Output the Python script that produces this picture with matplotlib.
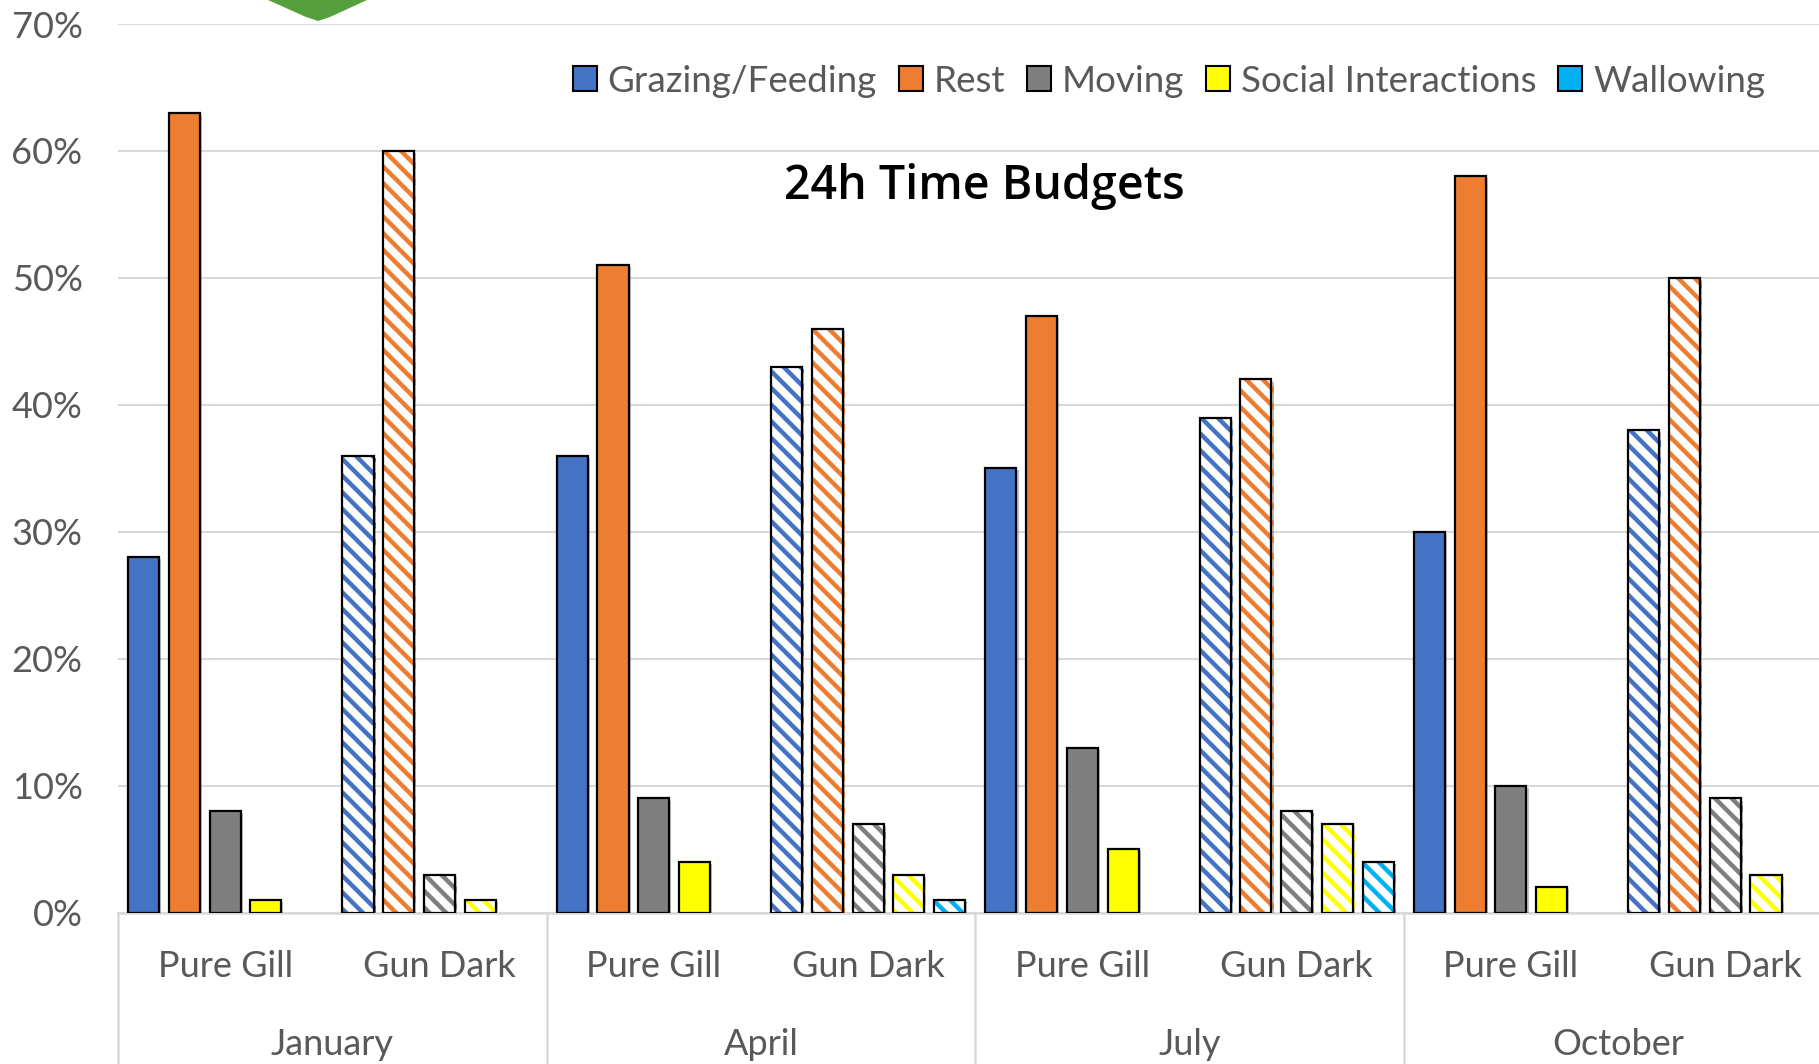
import matplotlib
matplotlib.use("Agg")
import matplotlib.pyplot as plt
import matplotlib.patheffects as pe
from matplotlib.patches import Rectangle, Polygon
from matplotlib.transforms import blended_transform_factory
import numpy as np

plt.rcParams['font.family'] = ['Lato', 'DejaVu Sans']
plt.rcParams['hatch.linewidth'] = 3.2

months = ['January', 'April', 'July', 'October']
sites = ['Pure Gill', 'Gun Dark']
behaviours = ['Grazing/Feeding', 'Rest', 'Moving', 'Social Interactions', 'Wallowing']
colors = ['#4472C4', '#ED7D31', '#7F7F7F', '#FFFF00', '#00B0F0']

# percent of 24h, one entry per month/site column
grazing = [28, 36, 36, 43, 35, 39, 30, 38]
rest = [63, 60, 51, 46, 47, 42, 58, 50]
moving = [8, 3, 9, 7, 13, 8, 10, 9]
social = [1, 1, 4, 3, 5, 7, 2, 3]
wallowing = [0, 0, 0, 1, 0, 4, 0, 0]
series = [grazing, rest, moving, social, wallowing]

W, H = 1819, 1064
fig = plt.figure(figsize=(W / 100, H / 100), dpi=100)
ax = fig.add_axes([118 / W, 1 - 912.7 / H, 1714.4 / W, (912.7 - 24) / H])

text_grey = '#595959'
grid_grey = '#D9D9D9'

x = np.arange(len(grazing))
step = 0.19
width = 0.145
shadow = [pe.SimplePatchShadow(offset=(1.5, -1.5), shadow_rgbFace='#000000', alpha=0.25), pe.Normal()]

for i, vals in enumerate(series):
    pos = x + (i - 2) * step
    v = np.array(vals) / 100
    nonzero = v > 0
    solid = (x % 2 == 0) & nonzero
    striped = (x % 2 == 1) & nonzero
    # Pure Gill columns: solid fill
    ax.bar(pos[solid], v[solid], width, color=colors[i], edgecolor='black',
           linewidth=1.6, zorder=3, path_effects=shadow)
    # Gun Dark columns: white with coloured diagonal stripes
    ax.bar(pos[striped], v[striped], width, color='white', edgecolor=colors[i],
           hatch='\\\\', linewidth=0, zorder=3, path_effects=shadow)
    ax.bar(pos[striped], v[striped], width, fill=False, edgecolor='black',
           linewidth=1.6, zorder=4)

ax.set_xlim(-0.5, 7.5)
ax.set_ylim(0, 0.70)
ticks = np.arange(0, 0.71, 0.1)
ax.set_yticks(ticks)
ax.set_yticklabels([f'{int(round(t * 100))}%' for t in ticks])
ax.yaxis.grid(True, color=grid_grey, linewidth=1.5, zorder=0)
ax.set_axisbelow(True)
for s in ['left', 'right', 'top']:
    ax.spines[s].set_visible(False)
ax.spines['bottom'].set_color(grid_grey)
ax.spines['bottom'].set_linewidth(1.8)
ax.tick_params(axis='y', length=0, pad=25.5, labelsize=26, labelcolor=text_grey)
ax.tick_params(axis='x', length=0, labelbottom=False)

# two-level category axis
trans = blended_transform_factory(ax.transData, ax.transAxes)
for j in x:
    ax.text(j, -0.060, sites[j % 2], transform=trans, ha='center', va='center',
            fontsize=26, color=text_grey)
for m, name in enumerate(months):
    ax.text(2 * m + 0.5, -0.148, name, transform=trans, ha='center', va='center',
            fontsize=26, color=text_grey)
for b in np.arange(-0.5, 8.0, 2):
    ax.plot([b, b], [0, -0.2], transform=trans, color=grid_grey, linewidth=1.8,
            clip_on=False, zorder=1)

handles = [Rectangle((0, 0), 1, 1, facecolor=c, edgecolor='black', linewidth=1.5) for c in colors]
fig.legend(handles, behaviours, loc='center right', bbox_to_anchor=(1765 / W, 1 - 81 / H),
           ncol=5, frameon=False, fontsize=26.5, labelcolor=text_grey,
           handlelength=0.64, handleheight=0.64, handletextpad=0.3,
           columnspacing=0.6, borderpad=0, borderaxespad=0)

fig.text(984 / W, 1 - 186 / H, '24h Time Budgets', ha='center', va='center',
         fontsize=33.5, fontweight='semibold', color='black',
         family=['Open Sans', 'DejaVu Sans'])

# green tab peeking in at the top edge
tab = [(268, -5), (268, 0), (306, 17), (318, 21), (330, 17), (367, 0), (367, -5)]
fig.patches.append(Polygon([(px / W, 1 - py / H) for px, py in tab], closed=True,
                           transform=fig.transFigure, facecolor='#55A03C', edgecolor='none'))

fig.savefig('out.png', dpi=100)
